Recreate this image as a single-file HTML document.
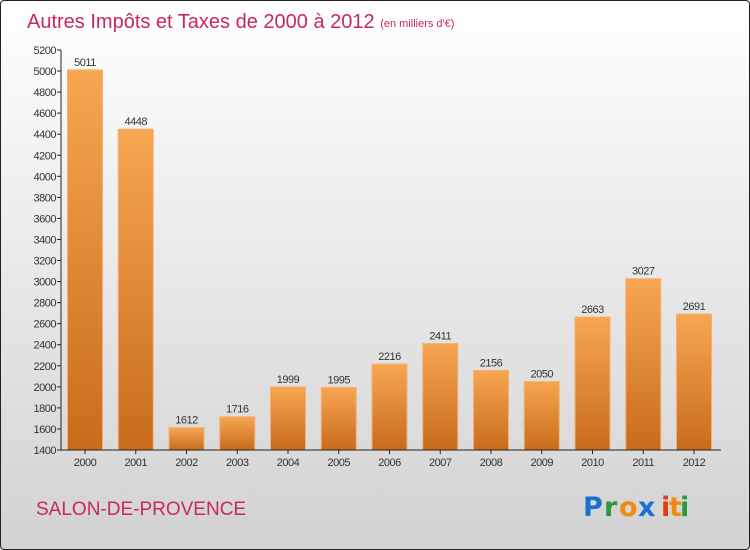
<!DOCTYPE html>
<html><head><meta charset="utf-8"><style>
body{margin:0}
#wrap{position:relative;width:748px;height:548px;border:1px solid #222;border-radius:4px;background:linear-gradient(#ffffff,#d2d2d2);overflow:hidden;font-family:"Liberation Sans",sans-serif}
</style></head><body>
<div id="wrap">
<svg id="chart" width="748" height="548">
<defs><linearGradient id="bg" x1="0" y1="0" x2="0" y2="1"><stop offset="0" stop-color="#f7a652"/><stop offset="1" stop-color="#c86c1c"/></linearGradient></defs>
<text x="26" y="27" font-size="20" fill="#c8285a">Autres Impôts et Taxes de 2000 à 2012 <tspan font-size="11" dy="-1">(en milliers d'€)</tspan></text>
<text x="35" y="514" font-size="19" fill="#c8285a">SALON-DE-PROVENCE</text>
<g font-size="27" font-weight="bold" font-family="'DejaVu Sans',sans-serif">
<text x="582" y="515" fill="#1a6fd0">P</text><text x="603" y="515" fill="#2a9a3a">r</text><text x="618" y="515" fill="#f08a10">o</text><text x="637" y="515" fill="#1a6fd0">x</text><text x="660" y="515" fill="#e04010">i</text><text x="668" y="515" fill="#f08a10">t</text><text x="679" y="515" fill="#2a9a3a">i</text></g>
<g id="g"></g>
</svg>
</div>
<script>
const categories=["2000","2001","2002","2003","2004","2005","2006","2007","2008","2009","2010","2011","2012"];
const values=[5011,4448,1612,1716,1999,1995,2216,2411,2156,2050,2663,3027,2691];
const ticks=[1400,1600,1800,2000,2200,2400,2600,2800,3000,3200,3400,3600,3800,4000,4200,4400,4600,4800,5000,5200];
const NS="http://www.w3.org/2000/svg";
const g=document.getElementById('g');
const y=v=>449-(v-1400)*(400/3800);
const x=i=>84+i*50.75;
function mk(t,a){const e=document.createElementNS(NS,t);for(const k in a)e.setAttribute(k,a[k]);g.appendChild(e);return e;}
ticks.forEach(t=>{
 const l=mk('line',{x1:56,x2:60,y1:y(t),y2:y(t),stroke:'#222'});
 
 
 const tx=mk('text',{x:55,y:y(t)+4,'font-size':11,'text-anchor':'end',fill:'#333','letter-spacing':'-0.5'});
 tx.textContent=t;
 
 
});
categories.forEach((c,i)=>{
 const r=mk('rect',{x:x(i)-17.5,y:y(values[i]),width:35,height:449-y(values[i]),fill:'url(#bg)',stroke:'#f5b070','stroke-width':1});
 
 
 const v=mk('text',{x:x(i),y:y(values[i])-4,'font-size':11,'text-anchor':'middle',fill:'#333','letter-spacing':'-0.5'});
 v.textContent=values[i];
 
 
 const tk=mk('line',{x1:x(i),x2:x(i),y1:449,y2:453,stroke:'#222'});
 
 
 const l=mk('text',{x:x(i),y:465,'font-size':11,'text-anchor':'middle',fill:'#333','letter-spacing':'-0.5'});
 l.textContent=c;
 
 
});
const ya=mk('line',{x1:60,x2:60,y1:y(5200),y2:449,stroke:'#222'});


const xa=mk('line',{x1:60,x2:720,y1:449,y2:449,stroke:'#222'});


</script>
</body></html>
